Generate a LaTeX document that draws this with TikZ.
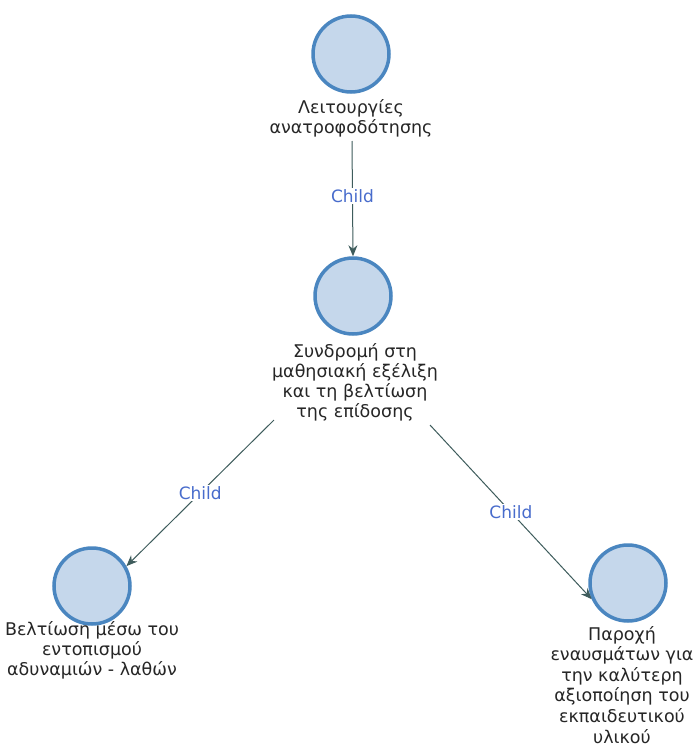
\documentclass[tikz,border=0pt]{standalone}
\usepackage{fontspec}
\setmainfont{DejaVu Sans}
\usetikzlibrary{arrows.meta}
\definecolor{circfill}{RGB}{197,215,235}
\definecolor{circdraw}{RGB}{74,134,192}
\definecolor{linkcol}{RGB}{62,92,92}
\definecolor{labcol}{RGB}{72,108,204}
\tikzset{
  circ/.style={circle, draw=circdraw, fill=circfill, line width=3.5pt, minimum size=76pt, inner sep=0pt},
  txt/.style={align=center, font=\fontsize{17.5}{20}\selectfont, inner sep=0pt, anchor=base, text=black!85},
  link/.style={draw=linkcol, line width=1pt, -{Stealth[length=11pt,width=9pt]}},
  lab/.style={fill=white, text=labcol, font=\fontsize{17}{18}\selectfont, inner sep=1.5pt}
}
\begin{document}
\begin{tikzpicture}[x=1pt,y=-1pt]
\useasboundingbox (0,0) rectangle (698,747);
\fill[white] (0,0) rectangle (698,747);
\node[circ] (tc) at (351,54) {};
\node[circ] (mc) at (353,296) {};
\node[circ] (lc) at (92,586) {};
\node[circ] (rc) at (628,583) {};
\node[txt] (tt) at (351,133) {Λειτουργίες\\ανατροφοδότησης};
\node[txt, font=\fontsize{17.5}{19.7}\selectfont] (mt) at (355,417) {Συνδρομή στη\\μαθησιακή εξέλιξη\\και τη βελτίωση\\της επίδοσης};
\node[txt] (lt) at (92,675) {Βελτίωση μέσω του\\εντοπισμού\\αδυναμιών - λαθών};
\node[txt, font=\fontsize{17.5}{20.6}\selectfont] (rt) at (622,743) {Παροχή\\εναυσμάτων για\\την καλύτερη\\αξιοποίηση του\\εκπαιδευτικού\\υλικού};
\coordinate (s1) at (352,141);
\coordinate (s2) at (274,420);
\coordinate (s3) at (430,425);
\draw[link] (s1) -- (mc.north) node[lab, pos=0.48] {Child};
\draw[link] (s2) -- (lc.30) node[lab, midway] {Child};
\draw[link] (s3) -- (rc.204) node[lab, midway] {Child};
\end{tikzpicture}
\end{document}
